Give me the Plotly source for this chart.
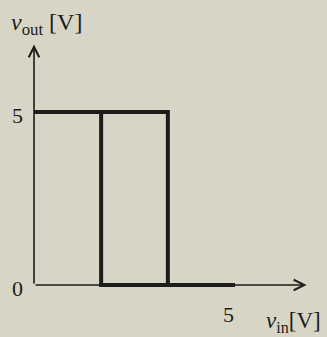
import plotly.graph_objects as go

# Hysteresis characteristic
up_x = [0, 3.33, 3.33, 5]
up_y = [5, 5, 0, 0]
down_x = [5, 1.67, 1.67, 0]
down_y = [0, 0, 5, 5]
x_ticks = [5]
y_ticks = [0, 5]

BG = "#d7d5c5"
INK = "#1c1c1a"
FONT = "Liberation Serif"

fig = go.Figure()
fig.add_trace(go.Scatter(x=up_x, y=up_y, mode="lines",
                         line=dict(color=INK, width=4), hoverinfo="skip"))
fig.add_trace(go.Scatter(x=down_x, y=down_y, mode="lines",
                         line=dict(color=INK, width=4), hoverinfo="skip"))

# axes with arrows
fig.add_annotation(x=6.78, y=0, ax=0, ay=0, xref="x", yref="y", axref="x", ayref="y",
                   text="", showarrow=True, arrowhead=5, arrowwidth=1.6, arrowsize=1.3,
                   arrowcolor=INK)
fig.add_annotation(x=0, y=6.95, ax=0, ay=0, xref="x", yref="y", axref="x", ayref="y",
                   text="", showarrow=True, arrowhead=5, arrowwidth=1.6, arrowsize=1.3,
                   arrowcolor=INK)

# tick labels
for v in x_ticks:
    fig.add_annotation(x=v - 0.15, y=-0.85, text=str(v), showarrow=False,
                       font=dict(family=FONT, size=22, color=INK))
for v in y_ticks:
    fig.add_annotation(x=-0.4, y=v - 0.1, text=str(v), showarrow=False,
                       font=dict(family=FONT, size=22, color=INK))

# axis titles
fig.add_annotation(x=0.3, y=7.55, text="<i>v</i><sub>out</sub> [V]", showarrow=False,
                   font=dict(family=FONT, size=24, color=INK))
fig.add_annotation(x=6.45, y=-1.08, text="<i>v</i><sub>in</sub>[V]", showarrow=False,
                   font=dict(family=FONT, size=23, color=INK))

fig.update_layout(
    width=327, height=337,
    margin=dict(l=0, r=0, t=0, b=0),
    paper_bgcolor=BG, plot_bgcolor=BG,
    showlegend=False,
    xaxis=dict(range=[-0.846, 7.289], visible=False, fixedrange=True),
    yaxis=dict(range=[-1.503, 8.237], visible=False, fixedrange=True),
)
fig.write_html("out.html", config={"displayModeBar": False},
               post_script="document.body.style.margin='0';document.body.style.overflow='hidden';")
